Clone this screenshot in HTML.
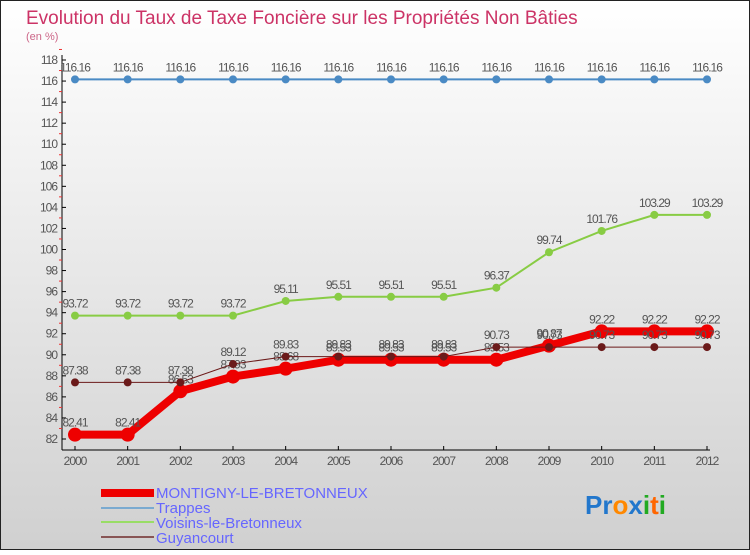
<!DOCTYPE html>
<html><head><meta charset="utf-8"><style>
body{margin:0;width:750px;height:550px;overflow:hidden;font-family:"Liberation Sans",sans-serif}
</style></head><body>
<svg width="750" height="550" xmlns="http://www.w3.org/2000/svg" style="font-family:'Liberation Sans',sans-serif">
<defs><linearGradient id="bg" x1="0" y1="0" x2="0" y2="1"><stop offset="0" stop-color="#ffffff"/><stop offset="1" stop-color="#d0d0d0"/></linearGradient></defs>
<rect x="0.5" y="0.5" width="749" height="549" fill="url(#bg)" stroke="#222"/>
<text x="26" y="24" font-size="19" fill="#cc3366">Evolution du Taux de Taxe Foncière sur les Propriétés Non Bâties</text>
<text x="26" y="40" font-size="11" fill="#cc6688">(en %)</text>
<g id="axes"></g>
<g id="series"></g>
<g id="legend" font-size="15" fill="#6666ff">
<rect x="101" y="489" width="53" height="8" fill="#ee0000"/>
<text x="156" y="498">MONTIGNY-LE-BRETONNEUX</text>
<rect x="101" y="507" width="53" height="2" fill="#7aaad0"/>
<text x="156" y="513">Trappes</text>
<rect x="101" y="521" width="53" height="2" fill="#99dd66"/>
<text x="156" y="528">Voisins-le-Bretonneux</text>
<rect x="101" y="536" width="53" height="2" fill="#885555"/>
<text x="156" y="543">Guyancourt</text>
</g>
<text x="585" y="514" font-size="26" font-weight="bold"><tspan fill="#2277cc">Pr</tspan><tspan fill="#ff8800">o</tspan><tspan fill="#2277cc">x</tspan><tspan fill="#22aa22">i</tspan><tspan fill="#ff6600">t</tspan><tspan fill="#22aa22">i</tspan></text>
</svg>
<script>
const years=[2000,2001,2002,2003,2004,2005,2006,2007,2008,2009,2010,2011,2012];
const yTicks=[82,84,86,88,90,92,94,96,98,100,102,104,106,108,110,112,114,116,118];
const trappes=[116.16,116.16,116.16,116.16,116.16,116.16,116.16,116.16,116.16,116.16,116.16,116.16,116.16];
const voisins=[93.72,93.72,93.72,93.72,95.11,95.51,95.51,95.51,96.37,99.74,101.76,103.29,103.29];
const guyancourt=[87.38,87.38,87.38,89.12,89.83,89.83,89.83,89.83,90.73,90.73,90.73,90.73,90.73];
const montigny=[82.41,82.41,86.53,87.93,88.68,89.53,89.53,89.53,89.53,90.87,92.22,92.22,92.22];
const NS='http://www.w3.org/2000/svg';
const X=i=>75+i*(707-75)/(years.length-1);
const Y=v=>439-(v-82)*(439-60)/36;
function mk(t,a,p){const e=document.createElementNS(NS,t);for(const k in a)e.setAttribute(k,a[k]);p.appendChild(e);return e;}
const ax=document.getElementById('axes');
let l=mk('line',{x1:62,y1:55,x2:62,y2:450,stroke:'#000'},ax);


l=mk('line',{x1:62,y1:450,x2:710,y2:450,stroke:'#000'},ax);


yTicks.forEach(v=>{
 mk('line',{x1:62,y1:Y(v),x2:66,y2:Y(v),stroke:'#000'},ax);
 mk('line',{x1:59,y1:Y(v+1),x2:62,y2:Y(v+1),stroke:'#e33'},ax);
 const t=mk('text',{x:57,y:Y(v)+4,'font-size':12,fill:'#555','text-anchor':'end','letter-spacing':'-1'},ax);
 t.textContent=v;
 
 
});
years.forEach((y,i)=>{
 mk('line',{x1:X(i),y1:446,x2:X(i),y2:450,stroke:'#000'},ax);
 const t=mk('text',{x:X(i),y:465,'font-size':12,fill:'#555','text-anchor':'middle','letter-spacing':'-1'},ax);
 t.textContent=y;
 
 
});
const sg=document.getElementById('series');
function series(vals,color,w,r,name){
 const g=mk('g',{},sg);
 
 
 const p=mk('polyline',{points:vals.map((v,i)=>X(i)+','+Y(v)).join(' '),fill:'none',stroke:color,'stroke-width':w},g);
 
 
 vals.forEach((v,i)=>{
  const c=mk('circle',{cx:X(i),cy:Y(v),r:r,fill:color},g);
  
  
  const t=mk('text',{x:X(i),y:Y(v)-8,'font-size':12,fill:'#555','text-anchor':'middle','letter-spacing':'-1'},g);
  t.textContent=v.toFixed(2);
  
  
 });
}
series(trappes,'#4a8ac4',2,4,'trappes');
series(voisins,'#88cc44',2,4,'voisins');
series(montigny,'#ee0000',8,7,'montigny');
series(guyancourt,'#6b1a1a',1,4,'guyancourt');
</script>
</body></html>
